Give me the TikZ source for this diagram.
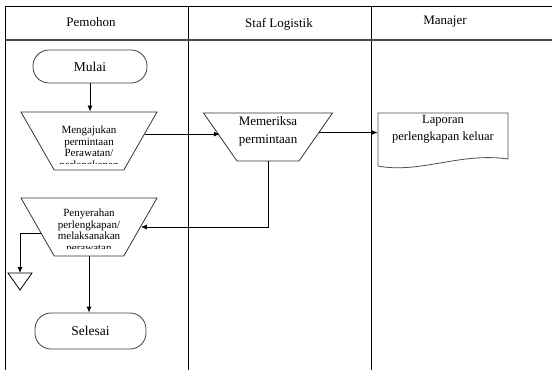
\documentclass[tikz,border=0pt]{standalone}
\usepackage{fontspec}
\setmainfont{Liberation Serif}
\usetikzlibrary{shapes.geometric, arrows.meta}

\begin{document}
\begin{tikzpicture}[x = 1pt, y = -1pt, > = {Latex[length = 6pt, width = 5pt]}, line width = 0.8pt,
	terminal/.style = {draw = black!75, rounded corners = 16pt, font = \fontsize{13.5}{15}\selectfont},
	manual/.style = {draw = black!80, trapezium, trapezium stretches = true, shape border rotate = 180, inner sep = 1pt},
	title/.style = {font = \fontsize{13}{15}\selectfont}]

	\useasboundingbox (0, 0) rectangle (552, 370);

	% Swimlanes

	\draw (5, 370) -- (5, 6) -- (552, 6);
	\draw (188, 6) -- (188, 370);
	\draw (371, 6) -- (371, 370);
	\draw [line width = 1.2pt, black!70] (5, 40) -- (552, 40);

	% Lane titles

	\node [title] (pemohon) at (91, 22) {Pemohon};
	\node [title] (staf) at (279, 24) {Staf Logistik};
	\node [title] (manajer) at (445, 22) {Manajer};

	% Pemohon

	\node [terminal, minimum width = 114pt, minimum height = 33pt] (mulai) at (90, 66.5) {Mulai};

	\node [manual, trapezium angle = 64.5, minimum width = 136pt, minimum height = 58pt] (ajukan) at (89, 141) {};
	\begin{scope}
		\clip (0, 0) rectangle (188, 163.5);
		\node [align = center, font = \fontsize{11}{11.5}\selectfont] (ajukantext) at (89, 148.5)
			{Mengajukan\\permintaan\\Perawatan/\\perlengkapan};
	\end{scope}

	\node [manual, trapezium angle = 64.5, minimum width = 136pt, minimum height = 58pt] (serah) at (89, 227) {};
	\begin{scope}
		\clip (0, 0) rectangle (188, 248.5);
		\node [align = center, font = \fontsize{11}{11.5}\selectfont] (serahtext) at (89, 231.5)
			{Penyerahan\\perlengkapan/\\melaksanakan\\perawatan};
	\end{scope}

	\node [terminal, minimum width = 111pt, minimum height = 36pt] (selesai) at (90.5, 331) {Selesai};

	\coordinate (arsip) at (20, 273);
	\draw (8, 273) -- (32, 273) -- (20, 290) -- cycle;

	% Staf Logistik

	\node [manual, trapezium angle = 61.6, minimum width = 129pt, minimum height = 48pt] (periksa) at (268, 137) {};
	\node [align = center, font = \fontsize{13}{18}\selectfont] (periksatext) at (268, 131)
		{Memeriksa\\permintaan};

	% Manajer

	\node [align = center, minimum width = 130pt, font = \fontsize{12.5}{17}\selectfont] (laporan) at (443, 129)
		{Laporan\\perlengkapan keluar};
	\draw [black!70] (378, 113) -- (508, 113) -- (508, 159)
		.. controls (460, 152) and (420, 174) .. (378, 166) -- cycle;

	% Connectors

	\draw [->] (mulai.south) -- (mulai.south |- ajukan.north);
	\draw [->] (ajukan.7) -- (ajukan.7 -| periksa.west);
	\draw [->] (periksa.5) -- (periksa.5 -| laporan.west);
	\draw [->] (periksa.south) |- (serah.east);
	\draw [->] (serah.187) -| (arsip);
	\draw [->] (serah.south) -- (serah.south |- selesai.north);

\end{tikzpicture}
\end{document}
